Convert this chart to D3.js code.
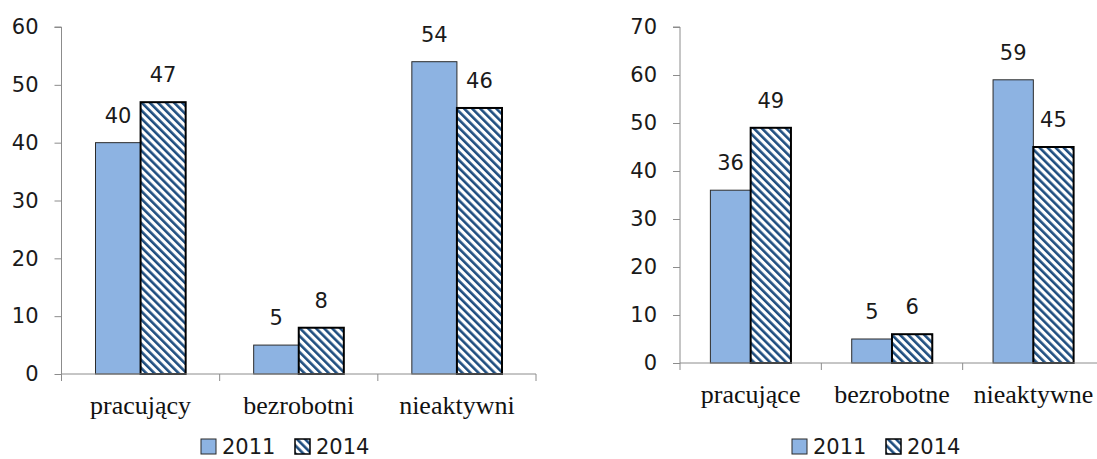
<!DOCTYPE html>
<html>
<head>
<meta charset="utf-8">
<script src="https://cdn.jsdelivr.net/npm/d3@7"></script>
<style>
  html, body { margin: 0; padding: 0; background: #fff; }
  svg { display: block; }
</style>
</head>
<body>
<svg id="chart" width="1097" height="459"></svg>
<script>
// ---- data ----
const seriesNames = ["2011", "2014"];
const categoriesLeft = ["pracujący", "bezrobotni", "nieaktywni"];
const categoriesRight = ["pracujące", "bezrobotne", "nieaktywne"];
const left2011 = [40, 5, 54];
const left2014 = [47, 8, 46];
const right2011 = [36, 5, 59];
const right2014 = [49, 6, 45];
const ticksLeft = [0, 10, 20, 30, 40, 50, 60];
const ticksRight = [0, 10, 20, 30, 40, 50, 60, 70];

const svg = d3.select("#chart");
const defs = svg.append("defs");
const pat = defs.append("pattern")
  .attr("id", "hatch")
  .attr("patternUnits", "userSpaceOnUse")
  .attr("width", 5.7).attr("height", 5.7)
  .attr("patternTransform", "rotate(-45)");
pat.append("rect").attr("width", 5.7).attr("height", 5.7).attr("fill", "#fff");
pat.append("rect").attr("x", 0).attr("y", 0).attr("width", 2.6).attr("height", 5.7).attr("fill", "#1F4E80");

const numFont = "'DejaVu Sans', Verdana, sans-serif";
const catFont = "'Liberation Serif', 'Times New Roman', serif";
const axisColor = "#8c8c8c";

function drawChart(cfg) {
  const g = svg.append("g");
  const y = d3.scaleLinear().domain(cfg.yDomain).range([cfg.y0, cfg.yTop]);
  const x0 = d3.scaleBand().domain(cfg.categories).range([cfg.xLeft, cfg.xRight]).padding(0);
  const bw = x0.bandwidth();
  const gw = bw * 0.57;
  const x1 = d3.scaleBand().domain(seriesNames).range([(bw - gw) / 2, (bw + gw) / 2]).padding(0);

  // y axis
  const yAxis = d3.axisLeft(y).tickValues(cfg.ticks).tickSize(7).tickPadding(16).tickFormat(d3.format("d"));
  const ya = g.append("g").attr("transform", `translate(${cfg.xLeft},0)`).call(yAxis);
  ya.select(".domain").attr("stroke", axisColor).attr("d", `M-7,${cfg.yTop}H0V${cfg.y0}`);
  ya.selectAll(".tick line").attr("stroke", axisColor);
  ya.selectAll(".tick text").attr("fill", "#1a1a1a").style("font-family", numFont).style("font-size", "21px");

  // bars
  const data = cfg.categories.map((c, i) => ({ c, vals: [cfg.v2011[i], cfg.v2014[i]] }));
  const grp = g.selectAll(".grp").data(data).enter().append("g")
    .attr("transform", d => `translate(${x0(d.c)},0)`);
  grp.selectAll("rect").data(d => d.vals.map((v, j) => ({ s: seriesNames[j], v }))).enter()
    .append("rect")
    .attr("x", d => x1(d.s))
    .attr("y", d => y(d.v))
    .attr("width", x1.bandwidth())
    .attr("height", d => y(0) - y(d.v))
    .attr("fill", d => d.s === "2011" ? "#8DB3E2" : "url(#hatch)")
    .attr("stroke", d => d.s === "2011" ? "#2b2b2b" : "#000")
    .attr("stroke-width", d => d.s === "2011" ? 1 : 2);
  grp.selectAll("text").data(d => d.vals.map((v, j) => ({ s: seriesNames[j], v }))).enter()
    .append("text")
    .attr("x", d => x1(d.s) + x1.bandwidth() / 2)
    .attr("y", d => y(d.v) - 20)
    .attr("text-anchor", "middle")
    .style("font-family", numFont).style("font-size", "21px").attr("fill", "#1a1a1a")
    .text(d => d.v);

  // x axis
  const xa = g.append("g");
  xa.append("line").attr("x1", cfg.xLeft).attr("x2", cfg.xRight).attr("y1", y(0)).attr("y2", y(0))
    .attr("stroke", axisColor);
  const edges = cfg.categories.map(c => x0(c)).concat([cfg.xRight]);
  xa.selectAll(".xt").data(edges).enter().append("line")
    .attr("x1", d => d).attr("x2", d => d).attr("y1", y(0)).attr("y2", y(0) + 7)
    .attr("stroke", axisColor);
  xa.selectAll(".xl").data(cfg.categories).enter().append("text")
    .attr("x", d => x0(d) + bw / 2)
    .attr("y", y(0) + 40)
    .attr("text-anchor", "middle")
    .style("font-family", catFont).style("font-size", "26px").attr("fill", "#111")
    .text(d => d);

  // legend
  const lg = g.append("g").attr("transform", `translate(${cfg.legendX},439)`);
  const items = lg.selectAll("g").data(seriesNames).enter().append("g")
    .attr("transform", (d, i) => `translate(${i * 94},0)`);
  items.append("rect").attr("x", 0).attr("y", 0).attr("width", 15).attr("height", 15)
    .attr("fill", d => d === "2011" ? "#8DB3E2" : "url(#hatch)")
    .attr("stroke", d => d === "2011" ? "#2b2b2b" : "#000")
    .attr("stroke-width", d => d === "2011" ? 1 : 1.5);
  items.append("text").attr("x", 21).attr("y", 15)
    .style("font-family", numFont).style("font-size", "21px").attr("fill", "#1a1a1a")
    .text(d => d);
}

drawChart({
  categories: categoriesLeft, v2011: left2011, v2014: left2014, ticks: ticksLeft,
  yDomain: [0, 60], y0: 374, yTop: 27, xLeft: 61.5, xRight: 536, legendX: 201
});
drawChart({
  categories: categoriesRight, v2011: right2011, v2014: right2014, ticks: ticksRight,
  yDomain: [0, 70], y0: 363, yTop: 27, xLeft: 680, xRight: 1104, legendX: 792
});
</script>
</body>
</html>
